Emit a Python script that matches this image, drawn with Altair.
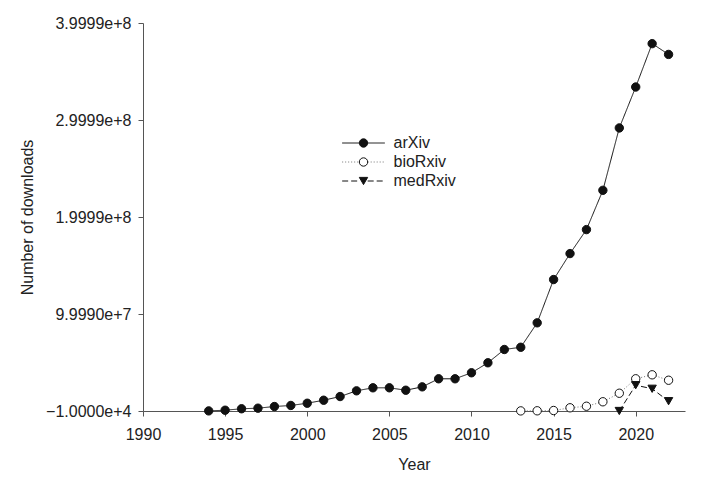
import altair as alt
import pandas as pd

# ---- data (values in millions of downloads) ----
arxiv_years = list(range(1994, 2023))
arxiv_values = [0.1, 0.8, 2.3, 2.9, 4.6, 5.7, 8.0, 11.1, 14.9, 20.8,
                23.9, 23.9, 21.4, 24.9, 33.2, 33.2, 39.4, 49.7, 63.4, 65.7,
                90.9, 135.5, 162.3, 187.0, 227.5, 291.8, 334.0, 378.7, 367.6]

biorxiv_years = list(range(2013, 2023))
biorxiv_values = [0.1, 0.2, 0.5, 3.3, 4.9, 9.5, 18.3, 33.2, 37.3, 31.7]

medrxiv_years = list(range(2019, 2023))
medrxiv_values = [0.0, 26.6, 22.9, 10.1]

series_names = ["arXiv", "bioRxiv", "medRxiv"]
x_ticks = [1990, 1995, 2000, 2005, 2010, 2015, 2020]
y_ticks = [-1.0e4, 9.999e7, 1.9999e8, 2.9999e8, 3.9999e8]

rows = []
for name, years, vals in [("arXiv", arxiv_years, arxiv_values),
                          ("bioRxiv", biorxiv_years, biorxiv_values),
                          ("medRxiv", medrxiv_years, medrxiv_values)]:
    for yr, v in zip(years, vals):
        rows.append({"series": name, "line_series": name, "year": yr, "value": v * 1e6})
df = pd.DataFrame(rows)

FONT = "Liberation Sans"

x_enc = alt.X("year:Q",
              scale=alt.Scale(domain=[1990, 2023], nice=False, zero=False),
              axis=alt.Axis(values=x_ticks, format="d", title="Year",
                            labelFlush=False, labelPadding=10, titlePadding=14))
y_enc = alt.Y("value:Q",
              scale=alt.Scale(domain=[-1.0e4, 3.9999e8], nice=False, zero=False),
              axis=alt.Axis(values=y_ticks, format=".4e", title="Number of downloads",
                            labelPadding=7, titlePadding=10))

LX, LY = 212.5, 112

line_legend = alt.Legend(orient="none", legendX=LX, legendY=LY, title=None,
                         symbolType="M-5.1,0H-1M1,0H5.1", symbolSize=70,
                         symbolStrokeWidth=1, labelFontSize=16, labelExpr="''",
                         rowPadding=3, padding=0)
point_legend = alt.Legend(orient="none", legendX=LX, legendY=LY, title=None,
                          symbolSize=70, symbolStrokeWidth=1,
                          labelOffset=22, labelFontSize=16, labelColor="#222222",
                          rowPadding=3, padding=0)

base = alt.Chart(df)

lines = base.mark_line(strokeWidth=1).encode(
    x=x_enc, y=y_enc,
    stroke=alt.Stroke("line_series:N",
                      scale=alt.Scale(range=["#111111", "#777777", "#111111"]),
                      legend=line_legend),
    strokeDash=alt.StrokeDash("line_series:N",
                              scale=alt.Scale(range=[[1, 0], [1, 2], [6, 3]]),
                              legend=line_legend),
)

points = base.mark_point(filled=True, size=70, stroke="#111111", strokeWidth=1, opacity=1).encode(
    x=x_enc, y=y_enc,
    shape=alt.Shape("series:N",
                    scale=alt.Scale(range=["circle", "circle", "triangle-down"]),
                    legend=point_legend),
    fill=alt.Fill("series:N",
                  scale=alt.Scale(range=["#111111", "white", "#111111"]),
                  legend=point_legend),
)

chart = alt.layer(lines, points).properties(
    width=542, height=388,
    autosize=alt.AutoSizeParams(type="none"),
    padding={"left": 135, "top": 15, "right": 10, "bottom": 62},
).configure(font=FONT).configure_axis(
    domainColor="#555555", tickColor="#555555", labelColor="#222222",
    titleColor="#222222", labelFontSize=16, titleFontSize=16,
    titleFontWeight="normal", grid=False, tickSize=5, domainWidth=1, tickWidth=1,
    labelFont=FONT, titleFont=FONT,
).configure_legend(labelFont=FONT).configure_view(strokeWidth=0)

chart.save("out.html", embed_options={"renderer": "svg", "actions": False})
